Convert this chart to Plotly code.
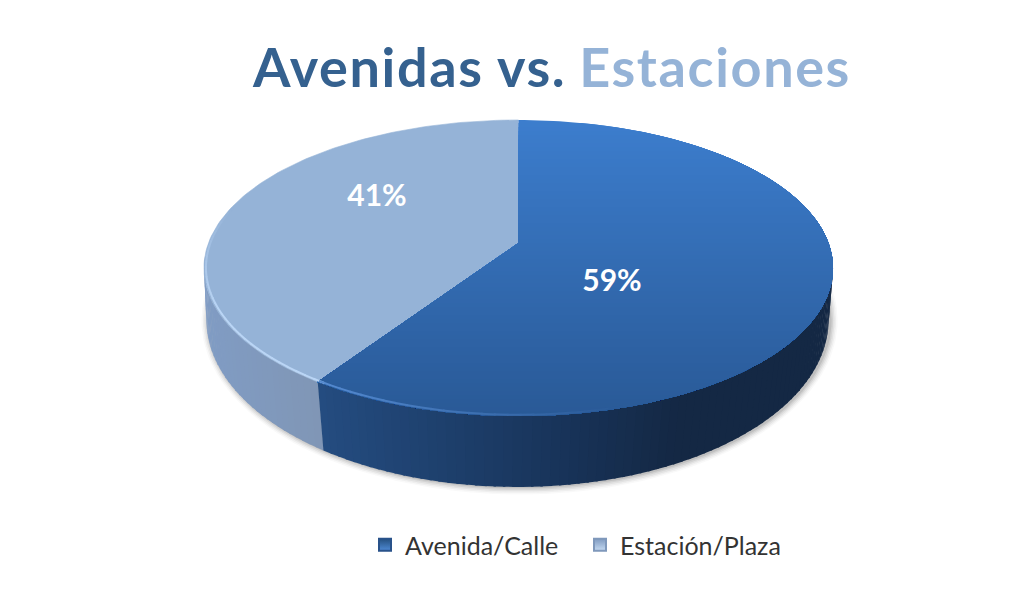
import numpy as np
import plotly.graph_objects as go

# ---- data ----
categories = ["Avenida/Calle", "Estación/Plaza"]
values = [59.4, 40.6]
title_parts = ["Avenidas vs.", "Estaciones"]

# ---- colours ----
C_TITLE_DARK = "#35618f"
C_TITLE_LIGHT = "#95b3d7"
TOP_DARK = ((60, 125, 205), (41, 89, 150))
TOP_LIGHT = "#95b3d7"
WALL_DARK = ((36, 76, 128), (24, 52, 90), (20, 40, 68))
WALL_LIGHT = ((128, 156, 196), (128, 150, 181))

# ---- projection of the pie (pixel axes, tilted disc seen in perspective) ----
W, H = 1021, 613
CX = 518.5
TOP = dict(a=310.0, b=143.8, cy=243.0, cx=CX, k=0.169)
BOT = dict(a=308.0, b=163.7, cy=296.6, cx=CX - 1, k=0.14)


def project(phi_deg, plane, r=1.0):
    p = np.radians(np.asarray(phi_deg, dtype=float))
    u, v = r * np.sin(p), r * np.cos(p)
    w = 1 + plane["k"] * v
    return plane["cx"] + plane["a"] * u / w, plane["cy"] - plane["b"] * v / w


def lerp(c1, c2, t):
    t = float(np.clip(t, 0, 1))
    return tuple(c1[i] + (c2[i] - c1[i]) * t for i in range(3))


def rgb(c):
    return "rgb(%d,%d,%d)" % tuple(round(x) for x in c)


def clip_below(xs, ys, y0):
    """Keep the part of a polygon with y >= y0."""
    out_x, out_y = [], []
    n = len(xs)
    for i in range(n):
        x1, y1, x2, y2 = xs[i], ys[i], xs[(i + 1) % n], ys[(i + 1) % n]
        if y1 >= y0:
            out_x.append(x1)
            out_y.append(y1)
        if (y1 >= y0) != (y2 >= y0):
            t = (y0 - y1) / (y2 - y1)
            out_x.append(x1 + (x2 - x1) * t)
            out_y.append(y0)
    return out_x, out_y


fig = go.Figure()


def poly(xs, ys, color, line=False):
    fig.add_trace(go.Scatter(
        x=list(xs), y=list(ys), mode="lines", fill="toself", fillcolor=color,
        line=dict(width=0.6 if line else 0, color=color),
        hoverinfo="skip", showlegend=False))


total = sum(values)
sweep = [v / total * 360 for v in values]
b1 = sweep[0]  # clockwise from 12 o'clock: first slice 0..b1, second b1..360

# soft shadow under the disc
phi_all = np.linspace(0, 360, 181)
bx, by = project(phi_all, BOT)
bcx, bcy = 517.0, 320.0
for grow, alpha in [(7, .03), (5.5, .05), (4, .07), (2.5, .09), (1, .12)]:
    sx = bcx + 2 + (bx - bcx) * (1 + grow / 311)
    sy = bcy + 0.5 + (by - bcy) * (1 + grow / 167)
    poly(sx, sy, "rgba(60,60,60,%.2f)" % alpha)

# side wall, drawn as narrow strips shaded from left to right
STEP = 1.5
for phi in np.arange(265.0, b1, -STEP):
    a0, a1 = max(phi - STEP - 0.4, b1), phi
    x0, y0 = project([a0, a1], TOP)
    x1, y1 = project([a0, a1], BOT)
    t = (x0.mean() - 204) / (320 - 204)
    poly([x0[0], x0[1], x1[1], x1[0]], [y0[0], y0[1], y1[1], y1[0]],
         rgb(lerp(*WALL_LIGHT, t)))
for phi in np.arange(b1, 95.0, -STEP):
    a0, a1 = phi - STEP - 0.4, phi
    x0, y0 = project([a0, a1], TOP)
    x1, y1 = project([a0, a1], BOT)
    xm = x0.mean()
    if xm < 560:
        c = lerp(WALL_DARK[0], WALL_DARK[1], (xm - 320) / 240)
    else:
        c = lerp(WALL_DARK[1], WALL_DARK[2], (xm - 560) / 120)
    poly([x0[0], x0[1], x1[1], x1[0]], [y0[0], y0[1], y1[1], y1[0]], rgb(c))

# top face: light slice
arc2 = np.linspace(b1, 360, 120)
ax, ay = project(arc2, TOP)
poly([CX] + list(ax), [TOP["cy"]] + list(ay), TOP_LIGHT, line=True)

# top face: dark slice, vertical gradient painted from top to bottom
arc1 = np.linspace(0, b1, 170)
ax, ay = project(arc1, TOP)
px, py = [CX] + list(ax), [TOP["cy"]] + list(ay)
Y_TOP, Y_BOT = 120, 416
for y in np.arange(Y_TOP - 1, Y_BOT, 4.0):
    cx_, cy_ = clip_below(px, py, y)
    if len(cx_) > 2:
        poly(cx_, cy_, rgb(lerp(*TOP_DARK, (y - Y_TOP) / (Y_BOT - Y_TOP))))

# highlight along the front rim
RIM_R = 0.994
for phi in np.arange(285.0, b1, -2.0):
    xs, ys = project([phi, phi - 2.3], TOP, RIM_R)
    fade = np.clip((285 - phi) / 40, 0, 1)
    c = lerp((149, 179, 215), (186, 213, 245), fade)
    fig.add_trace(go.Scatter(x=xs, y=ys, mode="lines", line=dict(color=rgb(c), width=2),
                             hoverinfo="skip", showlegend=False))
for phi in np.arange(b1, 165.0, -2.0):
    xs, ys = project([phi, phi - 2.3], TOP, RIM_R)
    fade = (b1 - phi) / (b1 - 165)
    yy = ys.mean()
    base = lerp(*TOP_DARK, (yy - Y_TOP) / (Y_BOT - Y_TOP))
    c = lerp((84, 138, 208), base, fade)
    fig.add_trace(go.Scatter(x=xs, y=ys, mode="lines", line=dict(color=rgb(c), width=2),
                             hoverinfo="skip", showlegend=False))

# percentage labels
fig.add_trace(go.Scatter(
    x=[612, 377], y=[283.5, 198.5], mode="text",
    text=[f"{round(v)}%" for v in values], textposition="middle center",
    textfont=dict(family="Lato", size=30, color="white", weight="bold"),
    hoverinfo="skip", showlegend=False))

# legend
for name, col, edge, glow in zip(categories, ["#24507f", "#7f9ac0"], ["#29528a", "#7f98bb"],
                                 ["#4f8bd6", "#c5daf2"]):
    fig.add_trace(go.Scatter(
        x=[None], y=[None], mode="markers", name=name,
        marker=dict(symbol="square", size=13, color=col,
                    gradient=dict(type="vertical", color=glow),
                    line=dict(color=edge, width=1))))

fig.update_layout(
    width=W, height=H, margin=dict(l=0, r=0, t=0, b=0),
    paper_bgcolor="white", plot_bgcolor="white",
    xaxis=dict(range=[0, W], visible=False, fixedrange=True),
    yaxis=dict(range=[H, 0], visible=False, fixedrange=True),
    title=dict(
        text=(f'<span style="color:{C_TITLE_DARK};letter-spacing:1.6px">{title_parts[0]}</span> '
              f'<span style="color:{C_TITLE_LIGHT};letter-spacing:1.6px">{title_parts[1]}</span>'),
        x=552 / W, xanchor="center", y=1 - 68 / H, yanchor="middle",
        font=dict(family="Lato", size=54, weight="bold")),
    legend=dict(
        orientation="h", x=365 / W, xanchor="left", y=1 - 545 / H, yanchor="middle",
        font=dict(family="Lato", size=25, color="#333333"),
        entrywidth=170, entrywidthmode="pixels", itemsizing="constant",
        bgcolor="rgba(0,0,0,0)"),
)
fig.write_html("out.html", config={"displayModeBar": False},
               post_script="document.body.style.margin='0';")
